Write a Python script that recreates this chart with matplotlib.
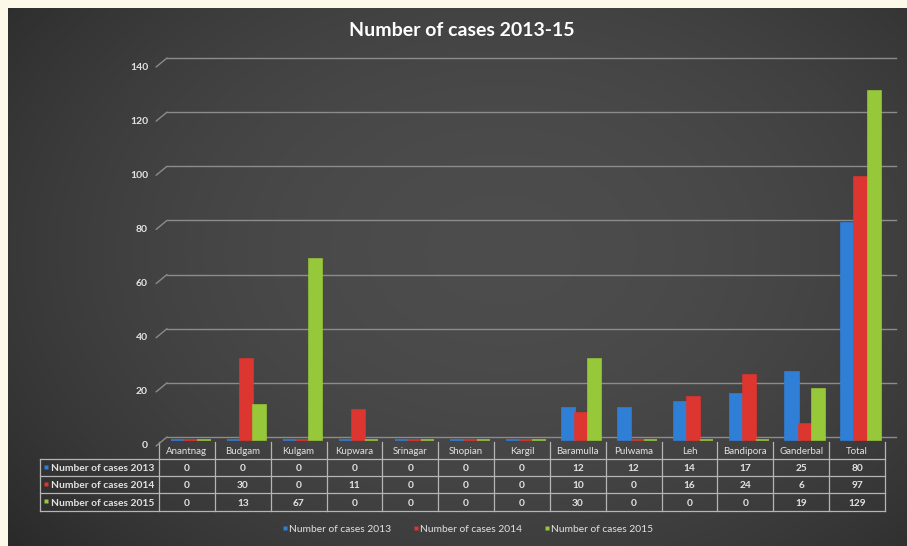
import numpy as np
import matplotlib
matplotlib.use('Agg')
import matplotlib.pyplot as plt
from matplotlib.transforms import ScaledTranslation

# ---- data ----
districts = ['Anantnag', 'Budgam', 'Kulgam', 'Kupwara', 'Srinagar', 'Shopian', 'Kargil',
             'Baramulla', 'Pulwama', 'Leh', 'Bandipora', 'Ganderbal', 'Total']
cases_2013 = [0, 0, 0, 0, 0, 0, 0, 12, 12, 14, 17, 25, 80]
cases_2014 = [0, 30, 0, 11, 0, 0, 0, 10, 0, 16, 24, 6, 97]
cases_2015 = [0, 13, 67, 0, 0, 0, 0, 30, 0, 0, 0, 19, 129]
series_names = ['Number of cases 2013', 'Number of cases 2014', 'Number of cases 2015']
yticks = [0, 20, 40, 60, 80, 100, 120, 140]

colors = ['#2f7fd6', '#dd3530', '#96c83a']
txt = '#e2e2e2'
FONT = 'Lato'

W, H = 907, 546
fig = plt.figure(figsize=(W / 100, H / 100), dpi=100, facecolor='#fdf9e8')

# dark panel with soft radial gradient
bg = fig.add_axes([8 / W, 0, (W - 8) / W, (H - 8) / H])
yy, xx = np.mgrid[0:1:300j, 0:1:500j]
r = np.sqrt(((xx - 0.55) / 0.75) ** 2 + ((yy - 0.45) / 0.9) ** 2)
shade = np.clip(1 - r ** 2, 0, 1)
img = 0.15 + 0.15 * shade
bg.imshow(np.dstack([img, img, img]), aspect='auto', extent=[0, 1, 0, 1])
bg.axis('off')

# overlay in pixel coordinates for table / legend
ov = fig.add_axes([0, 0, 1, 1], facecolor='none')
ov.set_xlim(0, W)
ov.set_ylim(H, 0)
ov.axis('off')

# main plot (back wall gridlines)
x0, x1 = 159, 885
y0, y1 = 437, 58
ax = fig.add_axes([x0 / W, (H - y0) / H, (x1 - x0) / W, (y0 - y1) / H], facecolor='none')
ax.set_xlim(-0.5, len(districts) - 0.5)
ax.set_ylim(0, 140)
ax.axis('off')

gt = ax.get_yaxis_transform()
front = gt + ScaledTranslation(0, -0.09, fig.dpi_scale_trans)
for v in yticks:
    ax.plot([0.011, 1.015], [v, v], transform=gt, clip_on=False, color='#8c8c8c', lw=1)
    ax.annotate('', xy=(0.011, v), xycoords=gt, xytext=(-0.004, v), textcoords=front,
                arrowprops=dict(arrowstyle='-', color='#8c8c8c', lw=1, shrinkA=0, shrinkB=0))
    ax.text(-0.015, v, str(v), transform=front, ha='right', va='center',
            color=txt, fontsize=7.5, fontweight='bold', family=FONT)

# bars sit slightly in front of the back wall (3px lower)
bx = fig.add_axes([x0 / W, (H - y0 - 3) / H, (x1 - x0) / W, (y0 - y1) / H], facecolor='none')
bx.set_xlim(-0.5, len(districts) - 0.5)
bx.set_ylim(0, 140)
bx.axis('off')
xs = np.arange(len(districts))
bw = 0.235
for k, vals in enumerate([cases_2013, cases_2014, cases_2015]):
    bx.bar(xs + (k - 1) * bw + 0.07, vals, width=bw, color=colors[k],
           edgecolor=colors[k], linewidth=1.2, zorder=3, clip_on=False)

# title
ov.text(462, 30, 'Number of cases 2013-15', ha='center', va='center', color='white',
        fontsize=14, fontweight='bold', family=FONT)

# ---- data table ----
col_w = (x1 - x0) / len(districts)
rows_y = [442, 459, 476, 493, 511]
lc = '#b5b5b5'
for i in range(len(districts) + 1):
    ov.plot([x0 + i * col_w] * 2, [rows_y[0], rows_y[-1]], color=lc, lw=0.9)
ov.plot([40, 40], [rows_y[1], rows_y[-1]], color=lc, lw=0.9)
for yv in rows_y[1:]:
    ov.plot([40, x1], [yv, yv], color=lc, lw=0.9)
for i, d in enumerate(districts):
    ov.text(x0 + (i + 0.5) * col_w, (rows_y[0] + rows_y[1]) / 2 + 1, d, ha='center',
            va='center', color=txt, fontsize=7, family=FONT)
for k, vals in enumerate([cases_2013, cases_2014, cases_2015]):
    yc = (rows_y[k + 1] + rows_y[k + 2]) / 2 + 1
    ov.plot(46, yc - 2, marker='s', ms=3.5, color=colors[k], mec='none')
    ov.text(51, yc, series_names[k], ha='left', va='center', color=txt,
            fontsize=7.4, fontweight='bold', family=FONT)
    for i, v in enumerate(vals):
        ov.text(x0 + (i + 0.5) * col_w, yc, str(v), ha='center', va='center',
                color=txt, fontsize=7.3, fontweight='bold', family=FONT)

# ---- legend ----
leg_x = [283, 414, 545]
for k in range(3):
    ov.plot(leg_x[k] + 2, 528, marker='s', ms=3.2, color=colors[k], mec='none')
    ov.text(leg_x[k] + 6, 530, series_names[k], ha='left', va='center', color=txt,
            fontsize=7.4, family=FONT)

plt.savefig('out.png', dpi=100, facecolor=fig.get_facecolor())
